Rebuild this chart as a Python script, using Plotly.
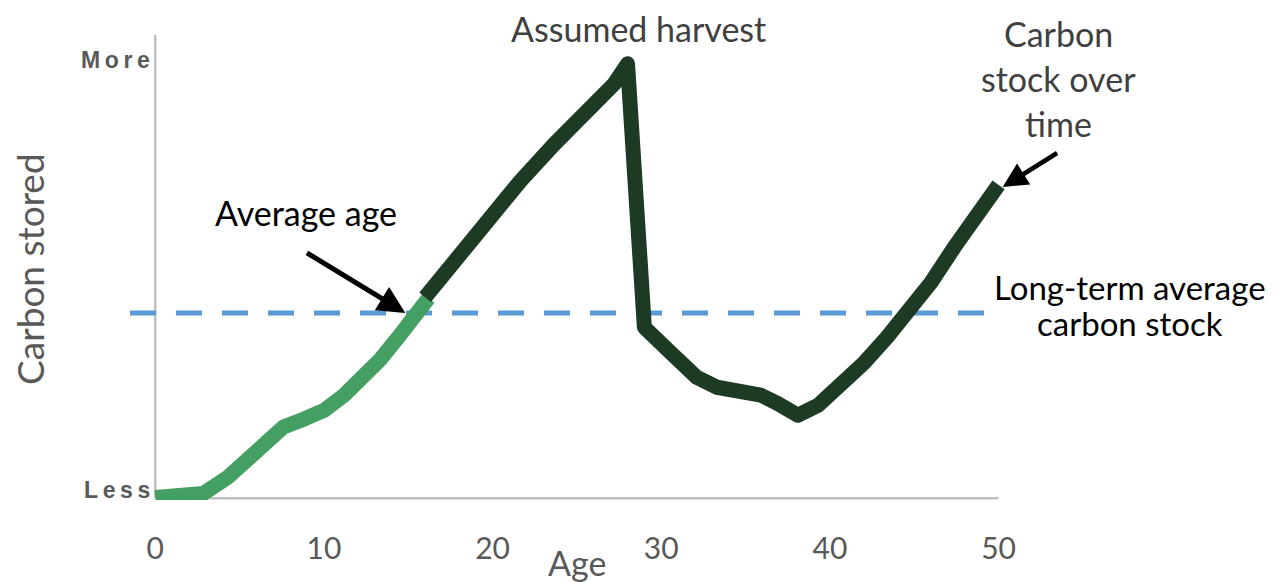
import plotly.graph_objects as go

# ---- data ----
age_young = [0, 2.85, 4.3, 5.5, 6.7, 7.6, 8.8, 10.0, 11.2, 12.0, 13.3, 14.5, 15.4, 16.2]
carbon_young = [0.2, 1.1, 4.8, 9.2, 13.7, 16.3, 18.1, 20.1, 23.6, 26.3, 31.6, 37.3, 41.9, 45.8]

age_old = [16.0, 17.7, 19.7, 21.65, 23.6, 25.6, 27.2, 28.0, 29.0, 30.4, 32.1, 33.3, 34.7, 35.9, 36.9,
           38.1, 39.3, 40.6, 42.0, 43.4, 44.8, 46.0, 47.4, 48.6, 50.0]
carbon_old = [46.0, 54.3, 63.8, 72.6, 80.8, 88.6, 94.8, 99.4, 39.1, 33.9, 27.7, 25.4, 24.3, 23.6, 21.7,
              19.0, 21.3, 25.4, 30.9, 36.9, 43.0, 49.4, 57.6, 64.3, 71.7]

long_term_average = 42.4
average_age = 14.83
x_ticks = [0, 10, 20, 30, 40, 50]
y_tick_vals = [1.8, 100.3]
y_tick_text = ["Less", "More"]

LIGHT = "#43A062"
DARK = "#1C3A24"
BLUE = "#5B9BD5"
AXIS_GRAY = "#BFBFBF"
TEXT_GRAY = "#595959"
FONT = "Lato"

fig = go.Figure()
fig.add_trace(go.Scatter(x=age_young, y=carbon_young, mode="lines",
                         line=dict(color=LIGHT, width=15), hoverinfo="skip"))
fig.add_trace(go.Scatter(x=age_old, y=carbon_old, mode="lines",
                         line=dict(color=DARK, width=15), hoverinfo="skip"))

# axis lines
fig.add_shape(type="line", xref="x", yref="y", x0=0, x1=0, y0=0, y1=106,
              line=dict(color=AXIS_GRAY, width=2.5), layer="below")
fig.add_shape(type="line", xref="x", yref="y", x0=0, x1=50, y0=0, y1=0,
              line=dict(color=AXIS_GRAY, width=2.5), layer="below")
# long-term average
fig.add_shape(type="line", xref="x", yref="y", x0=-1.5, x1=50, y0=long_term_average, y1=long_term_average,
              line=dict(color=BLUE, width=5, dash="26px,20px"), layer="below")

# y "tick" labels
for v, t in zip(y_tick_vals, y_tick_text):
    fig.add_annotation(x=0, y=v, xref="x", yref="y", text="<b>" + "\u2009".join(t) + "</b>",
                       showarrow=False, xanchor="right", xshift=-3,
                       font=dict(family="Liberation Sans", size=23, color=TEXT_GRAY))

# arrows
fig.add_annotation(x=average_age, y=long_term_average, xref="x", yref="y", text="",
                   showarrow=True, ax=-100, ay=-61, axref="pixel", ayref="pixel",
                   arrowhead=2, arrowsize=1.1, arrowwidth=5, arrowcolor="#000000", standoff=0)
fig.add_annotation(x=50.24, y=71.2, xref="x", yref="y", text="",
                   showarrow=True, ax=56, ay=-35, axref="pixel", ayref="pixel",
                   arrowhead=2, arrowsize=1.1, arrowwidth=4.5, arrowcolor="#000000", standoff=0)

def label(text, xp, yp, color, size=34, angle=0):
    fig.add_annotation(x=xp, y=yp, xref="paper", yref="paper", text=text, showarrow=False,
                       xanchor="center", yanchor="middle", textangle=angle,
                       font=dict(family=FONT, size=size, color=color))

label("Assumed harvest", 0.5795, 1.015, "#404040")
label("Average age", 0.2008, 0.6177, "#000000")
label("Carbon", 1.0585, 1.0043, "#404040")
label("stock over", 1.0585, 0.907, "#404040")
label("time", 1.0585, 0.810, "#404040")
label("Long-term average", 1.1406, 0.459, "#000000", size=33)
label("carbon stock", 1.1406, 0.381, "#000000", size=33)
label("Age", 0.51, -0.134, TEXT_GRAY, size=34)
label("Carbon stored", -0.114, 0.497, TEXT_GRAY, size=37, angle=-90)

fig.update_xaxes(range=[-1.5, 50.5], showline=False, showgrid=False, zeroline=False,
                 tickmode="array", tickvals=x_ticks, ticks="", ticklabelstandoff=28,
                 tickfont=dict(family=FONT, size=30, color=TEXT_GRAY), automargin=False)
fig.update_yaxes(range=[-0.4, 106], showline=False, showgrid=False, zeroline=False,
                 showticklabels=False, ticks="", automargin=False)

# the page body has an 8px margin, so the figure is 8px smaller and margins shifted
fig.update_layout(width=1276, height=574, showlegend=False,
                  margin=dict(l=122, r=277, t=27, b=82),
                  paper_bgcolor="white", plot_bgcolor="white")

fig.write_html("out.html", post_script=(
    "document.querySelectorAll('.scatterlayer .js-line').forEach("
    "function(e){e.style.strokeLinejoin='round';e.style.strokeLinecap='butt';});"))
